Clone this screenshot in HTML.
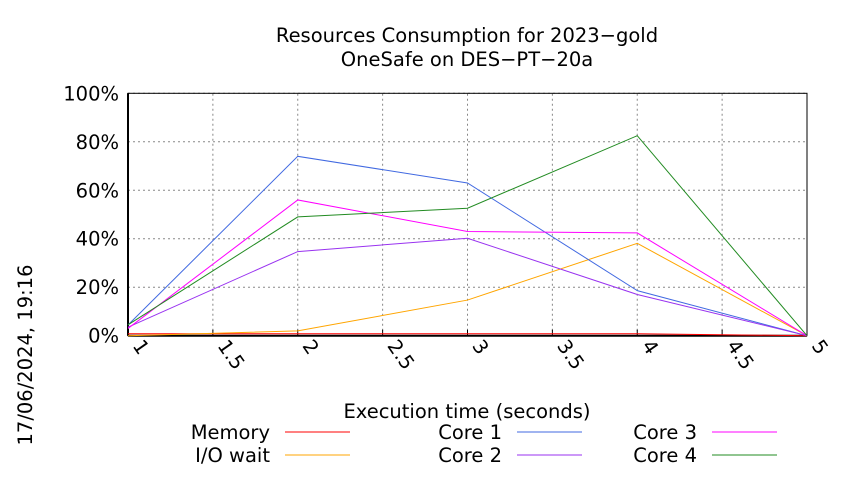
<!DOCTYPE html>
<html><head><meta charset="utf-8"><style>
body{margin:0;background:#fff;}
svg text{font-family:"DejaVu Sans","Liberation Sans",sans-serif;fill:#000;}
</style></head><body>
<svg width="850" height="475" viewBox="0 0 850 475">
<text x="467" y="42" font-size="19.5" text-anchor="middle">Resources Consumption for 2023−gold</text>
<text x="467" y="66" font-size="19.5" text-anchor="middle">OneSafe on DES−PT−20a</text>
<text transform="translate(32,355) rotate(-90)" font-size="19.5" text-anchor="middle">17/06/2024, 19:16</text>
<text x="467" y="418" font-size="19.5" text-anchor="middle">Execution time (seconds)</text>
<g id="grid"></g><g id="axes"></g><g id="series"></g><g id="legend"></g>
</svg>
<script>
const xs=[1,2,3,4,5];
const xTicks=[1,1.5,2,2.5,3,3.5,4,4.5,5];
const xTickLabels=["1","1.5","2","2.5","3","3.5","4","4.5","5"];
const yTicks=[0,20,40,60,80,100];
const yTickLabels=["0%","20%","40%","60%","80%","100%"];
const seriesNames=["Memory","I/O wait","Core 1","Core 2","Core 3","Core 4"];
const colors=["#ff0000","#ffa500","#4169e1","#9932f0","#ff00ff","#228b22"];
const memory=[0.8,0.8,0.8,0.8,0];
const ioWait=[0,2,14.7,38.1,0];
const core1=[4.4,74,63,18.6,0];
const core2=[3.5,34.7,40.2,17,0];
const core3=[3,56,43,42.4,0];
const core4=[4.5,49,52.6,82.5,0];
const allSeries=[memory,ioWait,core1,core2,core3,core4];
const NS="http://www.w3.org/2000/svg";
const X0=128,X1=807,Y0=335.7,Y1=93.3;
const sx=v=>X0+(v-1)/4*(X1-X0);
const sy=v=>Y0-v/100*(Y0-Y1);
function mk(t,a,p){const e=document.createElementNS(NS,t);for(const k in a)e.setAttribute(k,a[k]);p.appendChild(e);return e;}
const grid=document.getElementById('grid'),axes=document.getElementById('axes'),ser=document.getElementById('series'),leg=document.getElementById('legend');
yTicks.forEach((v,i)=>{
 const l=mk('line',{x1:X0,x2:X1,y1:sy(v),y2:sy(v),stroke:'#888','stroke-dasharray':'2,3','stroke-width':1},grid);
 
 
 const t=mk('text',{x:X0-9,y:sy(v)+7,'font-size':19.5,'text-anchor':'end'},axes);
 t.textContent=yTickLabels[i];
 
 
});
xTicks.forEach((v,i)=>{
 const l=mk('line',{x1:sx(v),x2:sx(v),y1:Y0,y2:Y1,stroke:'#888','stroke-dasharray':'2,3','stroke-width':1},grid);
 
 
 const tk=mk('line',{x1:sx(v),x2:sx(v),y1:Y0,y2:Y0-6,stroke:'#000'},axes);
 
 
 const t=mk('text',{transform:`translate(${sx(v)+4},${Y0+10}) rotate(55)`,'font-size':19.5},axes);
 t.textContent=xTickLabels[i];
 
 
});
const frame=mk('rect',{x:X0,y:Y1,width:X1-X0,height:Y0-Y1,fill:'none',stroke:'#000','stroke-width':1},axes);


const base=mk('line',{x1:X0,x2:X1,y1:Y0,y2:Y0,stroke:'#000','stroke-width':2},axes);


const yax=mk('line',{x1:X0,x2:X0,y1:Y0,y2:Y1,stroke:'#000','stroke-width':2},axes);


allSeries.forEach((d,i)=>{
 const p=mk('polyline',{points:d.map((v,j)=>sx(xs[j])+','+sy(v)).join(' '),fill:'none',stroke:colors[i],'stroke-width':1},ser);
 
 
});
const legPos=[[270,432],[270,455],[502,432],[502,455],[697,432],[697,455]];
seriesNames.forEach((n,i)=>{
 const [x,y]=legPos[i];
 const t=mk('text',{x:x,y:y+7,'font-size':19.5,'text-anchor':'end'},leg);
 t.textContent=n;
 
 
 const l=mk('line',{x1:x+15,x2:x+80,y1:y,y2:y,stroke:colors[i],'stroke-width':1},leg);
 
 
});
</script>
</body></html>
